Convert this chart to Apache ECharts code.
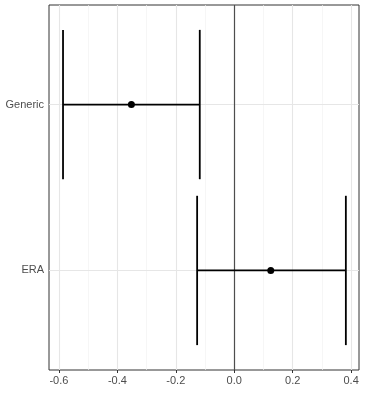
<!DOCTYPE html>
<html><head><meta charset="utf-8">
<script src="https://cdn.jsdelivr.net/npm/echarts@6/dist/echarts.min.js"></script>
<style>html,body{margin:0;padding:0;background:#fff}#c{width:365px;height:393px}</style>
</head><body><div id="c"></div>
<script>
const categories = ['ERA', 'Generic'];
const categoryPos = [1, 2];
const estimates = [0.125, -0.352];
const lower = [-0.127, -0.586];
const upper = [0.382, -0.118];
const xTicks = [-0.6, -0.4, -0.2, 0.0, 0.2, 0.4];
const xMinor = [-0.5, -0.3, -0.1, 0.1, 0.3];

const chart = echarts.init(document.getElementById('c'));
const font = 'Liberation Sans, Arial, sans-serif';
const errData = categoryPos.map((y, i) => [lower[i], upper[i], y]);
const ptData = categoryPos.map((y, i) => [estimates[i], y]);

chart.setOption({
  animation: false,
  grid: { left: 49, right: 6, top: 5, bottom: 23, show: true, borderColor: '#333', borderWidth: 1, backgroundColor: '#fff' },
  xAxis: {
    type: 'value', min: -0.634, max: 0.427,
    axisLine: { show: false },
    splitLine: { show: false },
    axisTick: { show: true, customValues: xTicks, length: 3, lineStyle: { color: '#333' } },
    axisLabel: { customValues: xTicks, color: '#4d4d4d', fontFamily: font, fontSize: 11, margin: 5,
      formatter: v => (Math.abs(v) < 1e-9 ? 0 : v).toFixed(1) }
  },
  yAxis: {
    type: 'value', min: 0.4, max: 2.6,
    axisLine: { show: false },
    splitLine: { show: false },
    axisTick: { show: true, customValues: categoryPos, length: 3, lineStyle: { color: '#333' } },
    axisLabel: { customValues: categoryPos, color: '#4d4d4d', fontFamily: font, fontSize: 11, margin: 5,
      formatter: v => categories[categoryPos.indexOf(Math.round(v))] || '' }
  },
  series: [
    {
      type: 'line', data: [], silent: true,
      markLine: {
        symbol: 'none', silent: true, label: { show: false }, animation: false,
        data: [
          ...xMinor.map(v => ({ xAxis: v, lineStyle: { color: '#f2f2f2', width: 0.7, type: 'solid' } })),
          ...xTicks.map(v => ({ xAxis: v, lineStyle: { color: '#e6e6e6', width: 1.1, type: 'solid' } })),
          ...categoryPos.map(v => ({ yAxis: v, lineStyle: { color: '#e6e6e6', width: 1.1, type: 'solid' } })),
          { xAxis: 0, lineStyle: { color: '#4d4d4d', width: 1.2, type: 'solid' } }
        ]
      }
    },
    {
      type: 'custom', data: errData, z: 5,
      renderItem: (params, api) => {
        const lo = api.value(0), hi = api.value(1), y = api.value(2);
        const a = api.coord([lo, y]), b = api.coord([hi, y]);
        const t1 = api.coord([lo, y + 0.45]), b1 = api.coord([lo, y - 0.45]);
        const t2 = api.coord([hi, y + 0.45]), b2 = api.coord([hi, y - 0.45]);
        const st = { stroke: '#000', lineWidth: 1.8 };
        return { type: 'group', children: [
          { type: 'line', shape: { x1: a[0], y1: a[1], x2: b[0], y2: b[1] }, style: st },
          { type: 'line', shape: { x1: t1[0], y1: t1[1], x2: b1[0], y2: b1[1] }, style: st },
          { type: 'line', shape: { x1: t2[0], y1: t2[1], x2: b2[0], y2: b2[1] }, style: st }
        ]};
      }
    },
    {
      type: 'scatter', data: ptData, symbolSize: 7, z: 6,
      itemStyle: { color: '#000', opacity: 1 }
    }
  ]
});
</script></body></html>
